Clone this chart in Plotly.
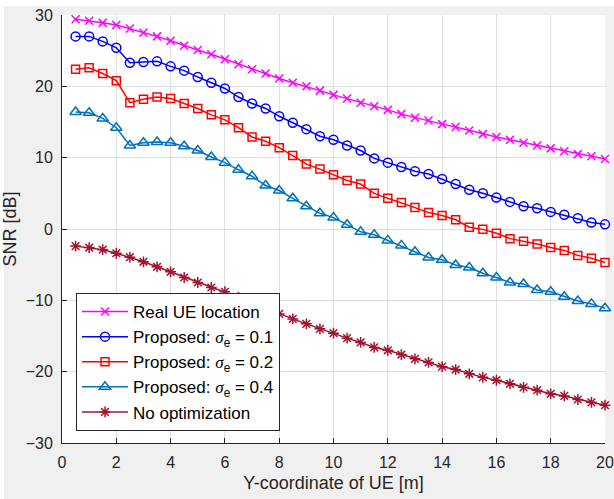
import plotly.graph_objects as go

x_m = [0.5, 1, 1.5, 2, 2.5, 3, 3.5, 4, 4.5, 5, 5.5, 6, 6.5, 7, 7.5, 8, 8.5, 9, 9.5, 10,
       10.5, 11, 11.5, 12, 12.5, 13, 13.5, 14, 14.5, 15, 15.5, 16, 16.5, 17, 17.5, 18, 18.5, 19, 19.5, 20]

snr_real = [29.4, 29.2, 28.9, 28.6, 28.1, 27.5, 27.0, 26.4, 25.7, 25.1, 24.5, 23.8, 23.1, 22.4, 21.8, 21.1,
            20.5, 20.0, 19.4, 18.8, 18.3, 17.7, 17.2, 16.7, 16.1, 15.6, 15.2, 14.7, 14.3, 13.8, 13.3, 12.9,
            12.5, 12.1, 11.7, 11.3, 10.9, 10.5, 10.2, 9.8]
snr_p01 = [27.0, 27.0, 26.3, 25.4, 23.3, 23.4, 23.5, 22.8, 22.2, 21.3, 20.5, 19.7, 18.5, 17.6, 16.9, 15.8,
           14.9, 14.0, 13.0, 12.5, 11.7, 11.0, 9.9, 9.3, 8.7, 8.1, 7.7, 7.0, 6.3, 5.5, 5.0, 4.4, 3.8, 3.2,
           2.9, 2.4, 2.0, 1.5, 0.9, 0.65]
snr_p02 = [22.4, 22.6, 21.8, 20.8, 17.7, 18.2, 18.5, 18.3, 17.6, 16.9, 16.0, 15.3, 14.2, 12.9, 12.3, 11.4,
           10.3, 9.1, 8.4, 7.6, 6.8, 6.3, 5.0, 4.3, 3.7, 3.0, 2.3, 1.9, 1.3, 0.25, -0.05, -0.6, -1.35, -1.7,
           -2.1, -2.6, -3.0, -3.7, -4.1, -4.7]
snr_p04 = [16.4, 16.3, 15.5, 14.2, 11.7, 12.1, 12.2, 12.1, 11.6, 11.0, 10.1, 9.3, 8.3, 7.4, 6.1, 5.4,
           4.3, 3.2, 2.2, 1.6, 0.6, -0.4, -0.8, -1.6, -2.3, -3.2, -4.0, -4.3, -5.05, -5.4, -6.2, -6.8,
           -7.5, -7.7, -8.55, -8.8, -9.5, -10.1, -10.5, -11.1]
snr_noopt = [-2.4, -2.6, -2.9, -3.4, -3.95, -4.6, -5.3, -6.0, -6.8, -7.5, -8.2, -8.8, -9.6, -10.3, -11.1,
             -11.9, -12.6, -13.3, -14.0, -14.6, -15.3, -15.9, -16.6, -17.0, -17.6, -18.2, -18.7, -19.3,
             -19.7, -20.3, -20.8, -21.2, -21.7, -22.2, -22.6, -23.1, -23.4, -23.9, -24.3, -24.7]

sig = "<span style=\"font-family:'Liberation Serif', serif\"><i>σ</i></span>"
names = ["Real UE location",
         f"Proposed: {sig}<sub>e</sub> = 0.1",
         f"Proposed: {sig}<sub>e</sub> = 0.2",
         f"Proposed: {sig}<sub>e</sub> = 0.4",
         "No optimization"]
x_ticks = [0, 2, 4, 6, 8, 10, 12, 14, 16, 18, 20]
y_ticks = [-30, -20, -10, 0, 10, 20, 30]

series = [snr_real, snr_p01, snr_p02, snr_p04, snr_noopt]
colors = ["#ff00ff", "#0000ff", "#ff0000", "#0072bd", "#a2142f"]
symbols = ["x-thin-open", "circle-open", "square-open", "triangle-up-open", "asterisk-open"]
sizes = [8, 9, 8, 10, 9]

fig = go.Figure()
for i, (ys, nm) in enumerate(zip(series, names)):
    fig.add_trace(go.Scatter(
        x=x_m, y=ys, name=nm, mode="lines+markers",
        legendgroup=f"g{i}", cliponaxis=False,
        line=dict(color=colors[i], width=1.5),
        marker=dict(symbol=symbols[i], size=sizes[i], color=colors[i],
                    line=dict(color=colors[i], width=1.5)),
    ))

font_fam = "Liberation Sans, Arial, sans-serif"
L, R, T, B = 62, 9, 15, 56
W, H = 614, 499
pw, ph = W - L - R, H - T - B

fig.update_layout(
    width=W, height=H,
    margin=dict(l=L, r=R, t=T, b=B, pad=0),
    paper_bgcolor="#f0f0f0",
    plot_bgcolor="#ffffff",
    font=dict(family=font_fam, size=16, color="#262626"),
    showlegend=True,
    legend=dict(
        x=(76 - L) / pw, y=(H - B - 293) / ph, xanchor="left", yanchor="top",
        bgcolor="#ffffff", bordercolor="#262626", borderwidth=1,
        font=dict(family=font_fam, size=17, color="#000000"),
        traceorder="grouped", tracegroupgap=0, itemwidth=46,
    ),
    xaxis=dict(
        range=[0, 20], tickvals=x_ticks, ticks="inside", ticklen=5, tickcolor="#262626",
        showline=True, linecolor="#262626", linewidth=1, automargin=False,
        showgrid=True, gridcolor="#dfdfdf", gridwidth=1, zeroline=False,
        tickfont=dict(size=16, color="#262626"), ticklabelstandoff=5,
        title=dict(text="Y-coordinate of UE [m]", font=dict(size=18, color="#262626"), standoff=6),
    ),
    yaxis=dict(
        range=[-30, 30], tickvals=y_ticks, ticks="inside", ticklen=5, tickcolor="#262626",
        showline=True, linecolor="#262626", linewidth=1, automargin=False,
        showgrid=True, gridcolor="#dfdfdf", gridwidth=1, zeroline=False,
        tickfont=dict(size=16, color="#262626"), ticklabelstandoff=5,
        title=dict(text="SNR [dB]", font=dict(size=18, color="#262626"), standoff=6),
    ),
    shapes=[
        dict(type="rect", xref="paper", yref="paper",
             x0=(0 - L) / pw, x1=(4 - L) / pw, y0=(H - B - H) / ph, y1=(H - B) / ph,
             fillcolor="#ffffff", line=dict(width=0), layer="above"),
        dict(type="rect", xref="paper", yref="paper",
             x0=(0 - L) / pw, x1=(W - L) / pw, y0=(H - B - 6) / ph, y1=(H - B) / ph,
             fillcolor="#ffffff", line=dict(width=0), layer="above"),
    ],
)

fig.write_html("out.html")
